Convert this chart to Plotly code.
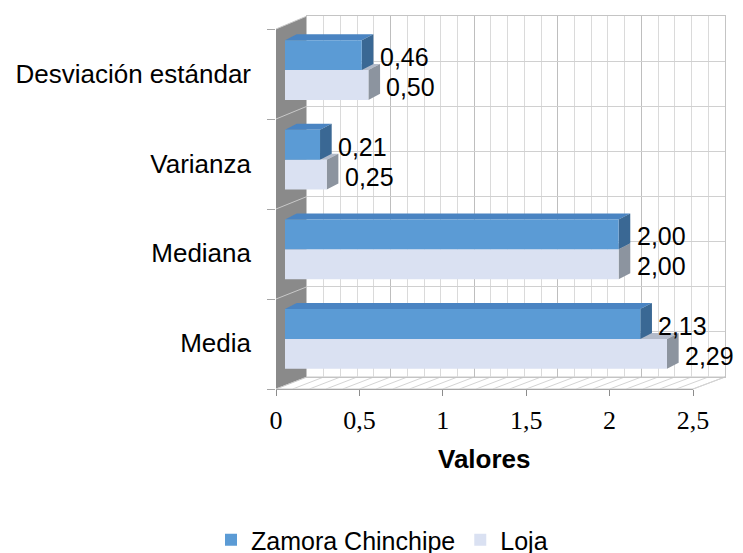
import plotly.graph_objects as go

# ---- data ----
categories = ["Media", "Mediana", "Varianza", "Desviación estándar"]
zamora = [2.13, 2.00, 0.21, 0.46]
loja = [2.29, 2.00, 0.25, 0.50]
series_names = ["Zamora Chinchipe", "Loja"]
x_ticks = [0, 0.5, 1, 1.5, 2, 2.5]

W, H = 743, 553
def fx(p):
    return p / W
def fy(p):
    return 1 - p / H

FONT = "Liberation Sans, Arial, sans-serif"
SERIF = "Liberation Serif, Times New Roman, serif"

Z_FRONT, Z_TOP, Z_SIDE = "#5B9BD5", "#4A84C2", "#3A6894"
L_FRONT, L_TOP, L_SIDE = "#DAE1F2", "#B3BBCA", "#8C949F"

# geometry (pixels)
wall_x0, wall_x1, wall_y0, wall_y1 = 307, 725, 16, 377
front_x0, front_x1, front_top, front_bot = 276, 693, 29, 389
bar_x0, bar_x1 = 285, 702
bar_top, bar_bot = 25.2, 383.8

h = 0.333          # bar thickness (category units)
dx, dy = 0.07, 0.067  # 3D depth offset in data units

fig = go.Figure()

ypos = list(range(len(categories)))

# Loja first (drawn lower in each group), Zamora second
fig.add_trace(go.Bar(y=ypos, x=loja, orientation="h", name=series_names[1],
                     marker=dict(color=L_FRONT, line=dict(width=0)),
                     xaxis="x2", yaxis="y2", hoverinfo="skip"))
fig.add_trace(go.Bar(y=ypos, x=zamora, orientation="h", name=series_names[0],
                     marker=dict(color=Z_FRONT, line=dict(width=0)),
                     xaxis="x2", yaxis="y2", hoverinfo="skip"))
# dummy traces to create wall and front-axis subplots
fig.add_trace(go.Scatter(x=[None], y=[None], xaxis="x", yaxis="y",
                         showlegend=False, hoverinfo="skip"))
fig.add_trace(go.Scatter(x=[None], y=[None], xaxis="x3", yaxis="y3",
                         showlegend=False, hoverinfo="skip"))

shapes = []

def ppath(pts):
    return "M " + " L ".join(f"{fx(a)},{fy(b)}" for a, b in pts) + " Z"

# left wall
shapes.append(dict(type="path", xref="paper", yref="paper", layer="below",
                   path=ppath([(front_x0, front_top), (wall_x0, wall_y0),
                               (wall_x0, wall_y1), (front_x0, front_bot)]),
                   fillcolor="#8A8A8A", line=dict(width=0)))
# left wall grid lines (extensions of horizontal wall lines)
for k in range(len(categories) + 1):
    yf = front_top + (front_bot - front_top) * k / len(categories)
    yb = wall_y0 + (wall_y1 - wall_y0) * k / len(categories)
    shapes.append(dict(type="line", xref="paper", yref="paper", layer="below",
                       x0=fx(front_x0), y0=fy(yf), x1=fx(wall_x0), y1=fy(yb),
                       line=dict(color="#C9C9C9", width=1)))
# floor
shapes.append(dict(type="path", xref="paper", yref="paper", layer="below",
                   path=ppath([(front_x0, front_bot), (wall_x0, wall_y1),
                               (wall_x1, wall_y1), (front_x1, front_bot)]),
                   fillcolor="white", line=dict(color="#C8C8C8", width=1)))
nminor = 25
for k in range(1, nminor + 1):
    t = k / nminor
    shapes.append(dict(type="line", xref="paper", yref="paper", layer="below",
                       x0=fx(front_x0 + (front_x1 - front_x0) * t), y0=fy(front_bot),
                       x1=fx(wall_x0 + (wall_x1 - wall_x0) * t), y1=fy(wall_y1),
                       line=dict(color="#D4D4D4", width=1)))

# 3D faces of bars (computed from data)
def dpath(pts):
    return "M " + " L ".join(f"{a},{b}" for a, b in pts) + " Z"

for i in ypos:
    Lv, Zv = loja[i], zamora[i]
    # Loja: bar spans y i-h .. i
    shapes.append(dict(type="path", xref="x2", yref="y2", layer="below",
                       path=dpath([(0, i), (Lv, i), (Lv + dx, i + dy), (dx, i + dy)]),
                       fillcolor=L_TOP, line=dict(width=0)))
    shapes.append(dict(type="path", xref="x2", yref="y2", layer="below",
                       path=dpath([(Lv, i - h), (Lv, i), (Lv + dx, i + dy), (Lv + dx, i - h + dy)]),
                       fillcolor=L_SIDE, line=dict(width=0)))
    # Zamora: bar spans y i .. i+h
    shapes.append(dict(type="path", xref="x2", yref="y2", layer="below",
                       path=dpath([(0, i + h), (Zv, i + h), (Zv + dx, i + h + dy), (dx, i + h + dy)]),
                       fillcolor=Z_TOP, line=dict(width=0)))
    shapes.append(dict(type="path", xref="x2", yref="y2", layer="below",
                       path=dpath([(Zv, i), (Zv, i + h), (Zv + dx, i + h + dy), (Zv + dx, i + dy)]),
                       fillcolor=Z_SIDE, line=dict(width=0)))

annotations = []
def fmt(v):
    return f"{v:.2f}".replace(".", ",")
for i in ypos:
    annotations.append(dict(x=zamora[i], y=i + h / 2, xref="x2", yref="y2",
                            text=fmt(zamora[i]), showarrow=False, xanchor="left",
                            yanchor="middle", xshift=16, yshift=-2,
                            font=dict(family=FONT, size=25, color="black")))
    annotations.append(dict(x=loja[i], y=i - h / 2, xref="x2", yref="y2",
                            text=fmt(loja[i]), showarrow=False, xanchor="left",
                            yanchor="middle", xshift=16, yshift=-2,
                            font=dict(family=FONT, size=25, color="black")))
annotations.append(dict(x=fx(484), y=fy(459), xref="paper", yref="paper",
                        text="<b>Valores</b>", showarrow=False, xanchor="center",
                        yanchor="middle", font=dict(family=FONT, size=26, color="black")))

fig.update_layout(
    width=W, height=H,
    margin=dict(l=0, r=0, t=0, b=0, autoexpand=False),
    paper_bgcolor="white",
    plot_bgcolor="rgba(0,0,0,0)",
    separators=",.",
    barmode="group",
    bargap=1 - 2 * h,
    bargroupgap=0,
    showlegend=True,
    legend=dict(orientation="h", x=fx(382), xanchor="center", y=fy(540),
                yanchor="middle", traceorder="reversed",
                font=dict(family=FONT, size=25, color="black"),
                bgcolor="rgba(0,0,0,0)"),
    shapes=shapes,
    annotations=annotations,
    # back wall
    xaxis=dict(domain=[fx(wall_x0), fx(wall_x1)], range=[0, 2.5], anchor="y",
               showticklabels=False, ticks="", dtick=0.5, showgrid=True,
               gridcolor="#BEBEBE", gridwidth=1, automargin=False,
               minor=dict(dtick=0.1, showgrid=True, gridcolor="#DADADA", gridwidth=1),
               zeroline=False, showline=True, mirror=True, linecolor="#C4C4C4"),
    yaxis=dict(domain=[fy(wall_y1), fy(wall_y0)], range=[0, 8], anchor="x",
               showticklabels=False, ticks="", dtick=1, showgrid=True, automargin=False,
               gridcolor="#D0D0D0", zeroline=False, showline=True, mirror=True,
               linecolor="#C4C4C4"),
    # bars
    xaxis2=dict(domain=[fx(bar_x0), fx(bar_x1)], range=[0, 2.5], anchor="y2",
                showticklabels=False, showgrid=False, zeroline=False, automargin=False,
                showline=False, ticks=""),
    yaxis2=dict(domain=[fy(bar_bot), fy(bar_top)], range=[-0.5, 3.5], anchor="x2",
                tickvals=ypos, ticktext=categories, ticks="", automargin=False,
                ticklabelstandoff=33, ticklabelshift=4,
                tickfont=dict(family=FONT, size=26, color="black"),
                showgrid=False, zeroline=False, showline=False),
    # front axis
    xaxis3=dict(domain=[fx(front_x0), fx(front_x1)], range=[0, 2.5], anchor="y3",
                tickvals=x_ticks, ticks="outside", ticklen=6, tickcolor="#8C8C8C",
                showline=True, linecolor="#A6A6A6", showgrid=False, zeroline=False,
                ticklabelstandoff=2, automargin=False,
                tickfont=dict(family=SERIF, size=26, color="black")),
    yaxis3=dict(domain=[fy(front_bot), fy(front_top)], range=[0, 4], anchor="x3",
                tickvals=[0, 1, 2, 3, 4], ticks="outside", ticklen=8, automargin=False,
                tickcolor="#A6A6A6", showticklabels=False, showgrid=False,
                zeroline=False, showline=False),
)

fig.write_html("out.html", config={"displayModeBar": False},
               post_script="document.body.style.margin='0';document.body.style.overflow='hidden';")
